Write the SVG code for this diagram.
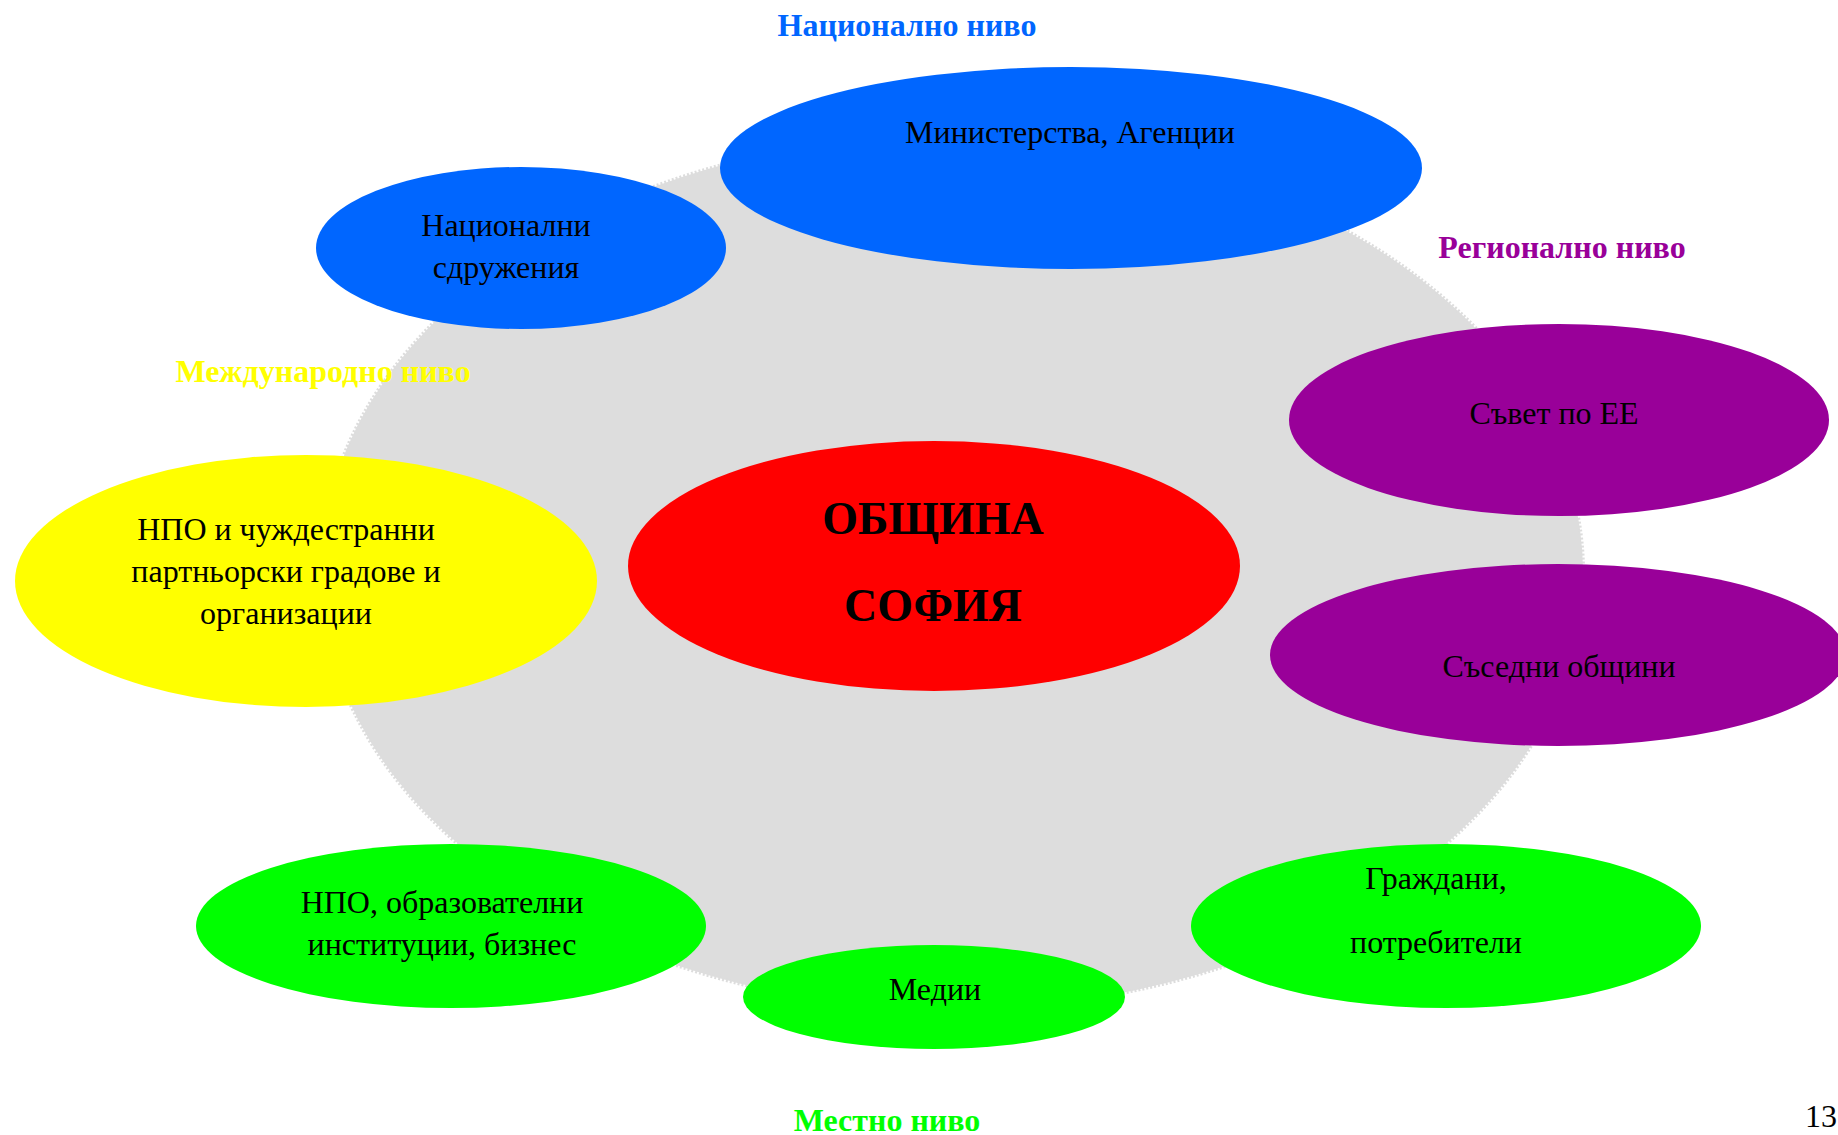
<svg xmlns="http://www.w3.org/2000/svg" width="1838" height="1135" viewBox="0 0 1838 1135">
<style>
.t{font-family:"Liberation Serif","Times New Roman",serif;font-size:32px;fill:#000;text-anchor:middle}
.lvl{font-family:"Liberation Serif","Times New Roman",serif;font-size:32px;font-weight:bold;text-anchor:middle}
.big{font-family:"Liberation Serif","Times New Roman",serif;font-size:46px;font-weight:bold;fill:#000;text-anchor:middle}
</style>
<rect width="1838" height="1135" fill="#fff"/>
<g id="background">
<ellipse cx="952" cy="572" rx="631" ry="437" fill="#dddddd" stroke="#dddddd" stroke-width="4" stroke-dasharray="2 2"/>
</g>
<g id="connectors"></g>
<g id="n-ministries">
<ellipse cx="1071" cy="168" rx="351" ry="101" fill="#0066ff"/>
<text class="t" x="1070" y="143">Министерства, Агенции</text>
</g>
<g id="n-national-assoc">
<ellipse cx="521" cy="248" rx="205" ry="81" fill="#0066ff"/>
<text class="t" x="506" y="236">Национални</text>
<text class="t" x="506" y="278">сдружения</text>
</g>
<g id="n-ngo-foreign">
<ellipse cx="306" cy="581" rx="291" ry="126" fill="#ffff00"/>
<text class="t" x="286" y="540">НПО и чуждестранни</text>
<text class="t" x="286" y="582">партньорски градове и</text>
<text class="t" x="286" y="624">организации</text>
</g>
<g id="n-sofia">
<ellipse cx="934" cy="566" rx="306" ry="125" fill="#ff0000"/>
<text class="big" x="933" y="534">ОБЩИНА</text>
<text class="big" x="933" y="621">СОФИЯ</text>
</g>
<g id="n-council">
<ellipse cx="1559" cy="420" rx="270" ry="96" fill="#990099"/>
<text class="t" x="1554" y="424">Съвет по ЕЕ</text>
</g>
<g id="n-neighbours">
<ellipse cx="1558" cy="655" rx="288" ry="91" fill="#990099"/>
<text class="t" x="1559" y="677">Съседни общини</text>
</g>
<g id="n-ngo-local">
<ellipse cx="451" cy="926" rx="255" ry="82" fill="#00ff00"/>
<text class="t" x="442" y="913">НПО, образователни</text>
<text class="t" x="442" y="955">институции, бизнес</text>
</g>
<g id="n-media">
<ellipse cx="934" cy="997" rx="191" ry="52" fill="#00ff00"/>
<text class="t" x="935" y="1000">Медии</text>
</g>
<g id="n-citizens">
<ellipse cx="1446" cy="926" rx="255" ry="82" fill="#00ff00"/>
<text class="t" x="1436" y="889">Граждани,</text>
<text class="t" x="1436" y="953">потребители</text>
</g>
<g id="labels">
<text class="lvl" x="907" y="36" fill="#0066ff">Национално ниво</text>
<text class="lvl" x="1562" y="258" fill="#990099">Регионално ниво</text>
<text class="lvl" x="323" y="382" fill="#ffff00">Международно ниво</text>
<text class="lvl" x="887" y="1131" fill="#00ff00">Местно ниво</text>
<text x="1805" y="1127" font-family="Liberation Serif, Times New Roman, serif" font-size="32" fill="#000">13</text>
</g>
</svg>
